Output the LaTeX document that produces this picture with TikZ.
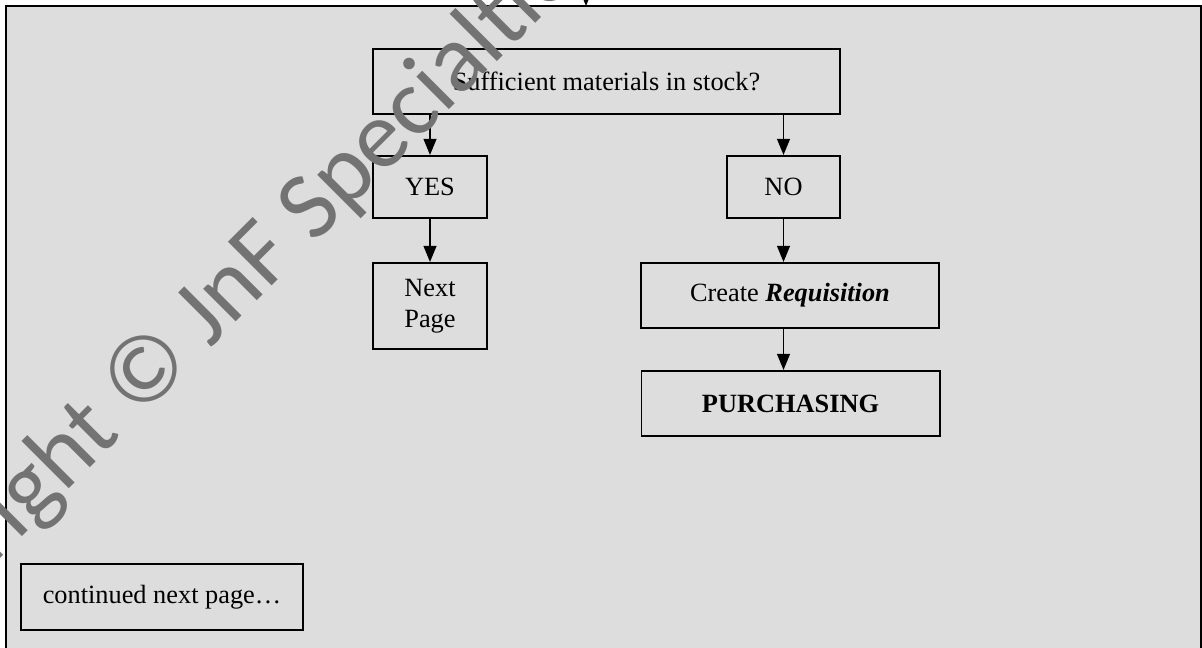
\documentclass[tikz,border=0pt]{standalone}
\usepackage{fontspec}
\setmainfont{Liberation Serif}
\newfontfamily\wmfont{Carlito}
\usepackage{tikz}
\usetikzlibrary{arrows.meta}
\definecolor{pagegray}{HTML}{DDDDDD}
\definecolor{wmgray}{HTML}{737373}
\tikzset{
  flowbox/.style={draw,line width=0.9pt,inner sep=0pt,align=center,font=\fontsize{12.3}{14.3}\selectfont},
  flowline/.style={->,line width=0.7pt}
}

\begin{document}
\begin{tikzpicture}[line cap=rect,>={Triangle[width=6pt,length=7.5pt]},x=0.467pt,y=-0.467pt]
\useasboundingbox (0,0) rectangle (1202,648);
% frame
\fill[pagegray] (6,6) rectangle (1201,660);
\draw[line width=0.95pt] (6,660) -- (6,6) -- (1201,6) -- (1201,660);
\coordinate (infrom) at (586,-30);
\coordinate (intop) at (586,6);
\draw[flowline] (infrom) -- (intop);
% boxes
\node[flowbox,minimum width=218pt,minimum height=30.4pt] (stock) at (606.5,81.5) {Sufficient materials in stock?};
\node[flowbox,minimum width=53.2pt,minimum height=29pt] (yes) at (430,187) {YES};
\node[flowbox,minimum width=53.2pt,minimum height=40.2pt] (nextpg) at (430,306) {Next\\Page};
\node[flowbox,minimum width=52.8pt,minimum height=29pt] (no) at (783.5,187) {NO};
\node[flowbox,minimum width=139pt,minimum height=30.4pt] (req) at (790,295.5) {Create \textbf{\textit{Requisition}}};
\node[flowbox,minimum width=139.2pt,minimum height=30.4pt] (purch) at (790.5,403.5) {\textbf{PURCHASING}};
\node[flowbox,minimum width=131.7pt,minimum height=30.8pt] (contd) at (162,597) {continued next page\ldots};
% arrows
\draw[flowline] (stock.south -| yes.north) -- (yes.north);
\draw[flowline] (stock.south -| no.north) -- (no.north);
\draw[flowline] (yes) -- (nextpg);
\draw[flowline] (no.south) -- (no.south |- req.north);
\draw[flowline] (no.south |- req.south) -- (no.south |- purch.north);
% watermark
\node[rotate=45,text=wmgray,font=\wmfont\fontsize{45}{45}\selectfont] (wmark) at (213,310) {Copyright © JnF Specialties};
\end{tikzpicture}
\end{document}
